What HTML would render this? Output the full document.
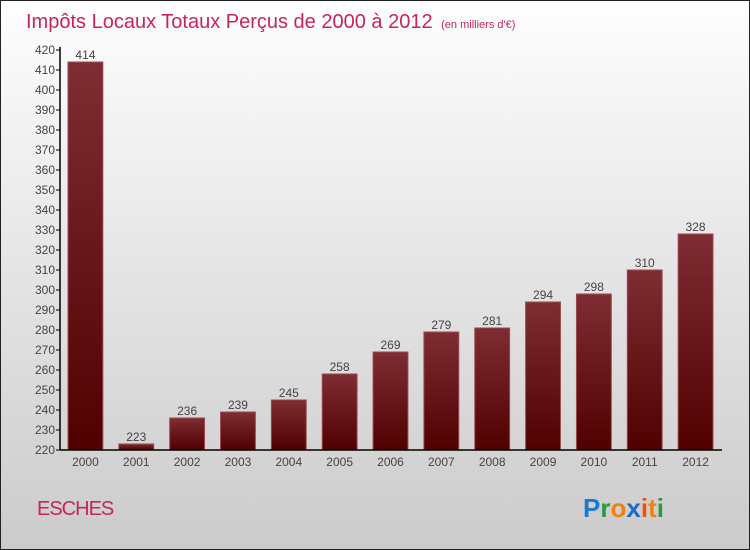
<!DOCTYPE html>
<html><head><meta charset="utf-8"><style>
body{margin:0;}
#c{position:relative;width:748px;height:548px;border:1px solid #222;background:linear-gradient(#fefefe,#cbcbcb);overflow:hidden;font-family:"Liberation Sans",sans-serif;}
</style></head><body>
<div id="c">
<svg width="748" height="548" xmlns="http://www.w3.org/2000/svg" id="svg" style="font-family:'Liberation Sans',sans-serif">
<defs><linearGradient id="bg" x1="0" y1="0" x2="0" y2="1"><stop offset="0" stop-color="#7e2e33"/><stop offset="1" stop-color="#500000"/></linearGradient></defs>
<text x="25" y="27" font-size="20" fill="#c8245a">Impôts Locaux Totaux Perçus de 2000 à 2012 <tspan font-size="11" dx="3">(en milliers d'€)</tspan></text>
<text x="36" y="514" font-size="20" fill="#c8245a" style="letter-spacing:-1px">ESCHES</text>
<g font-size="26" font-weight="bold">
<text x="582" y="516"><tspan fill="#1a7ad0">P</tspan><tspan fill="#2a9a3a">r</tspan><tspan fill="#f08010">o</tspan><tspan fill="#1a6ac8">x</tspan><tspan fill="#f05010">i</tspan><tspan fill="#f08010">t</tspan><tspan fill="#2a9a3a">i</tspan></text></g>
<g id="plot"></g>
</svg></div>
<script>
const years=["2000","2001","2002","2003","2004","2005","2006","2007","2008","2009","2010","2011","2012"];
const values=[414,223,236,239,245,258,269,279,281,294,298,310,328];
const yTicks=[220,230,240,250,260,270,280,290,300,310,320,330,340,350,360,370,380,390,400,410,420];
const NS="http://www.w3.org/2000/svg";
const g=document.getElementById('plot');
const x0=59,x1=720,yMin=220,yMax=420,py0=449,py1=49;
const band=(x1-x0)/years.length;
const xs=i=>x0+i*band;
const ys=v=>py0-(v-yMin)/(yMax-yMin)*(py0-py1);
function mk(t,a){const e=document.createElementNS(NS,t);for(const k in a)e.setAttribute(k,a[k]);g.appendChild(e);return e;}
yTicks.forEach(v=>{
 const t=mk('line',{x1:x0-4,x2:x0,y1:ys(v),y2:ys(v),stroke:'#000'});
 
 
 const l=mk('text',{x:x0-5,y:ys(v)+4,'font-size':12,'text-anchor':'end',fill:'#444'});
 l.textContent=v;
 
 
});
years.forEach((yr,i)=>{
 const v=values[i];
 const bx=xs(i)+8,bw=band-16;
 const r=mk('rect',{x:bx,y:ys(v),width:bw,height:py0-ys(v),fill:'url(#bg)',stroke:'#9a4a50','stroke-width':1});
 
 
 const vl=mk('text',{x:bx+bw/2,y:ys(v)-3,'font-size':12,'text-anchor':'middle',fill:'#444'});
 vl.textContent=v;
 
 
 const xl=mk('text',{x:bx+bw/2,y:py0+16,'font-size':12,'text-anchor':'middle',fill:'#444'});
 xl.textContent=yr;
 
 
});
const ya=mk('line',{x1:x0,x2:x0,y1:py1-3,y2:py0,stroke:'#000','stroke-width':1.5});


const xa=mk('line',{x1:x0,x2:x1+1,y1:py0,y2:py0,stroke:'#000','stroke-width':1.5});


</script>
</body></html>
